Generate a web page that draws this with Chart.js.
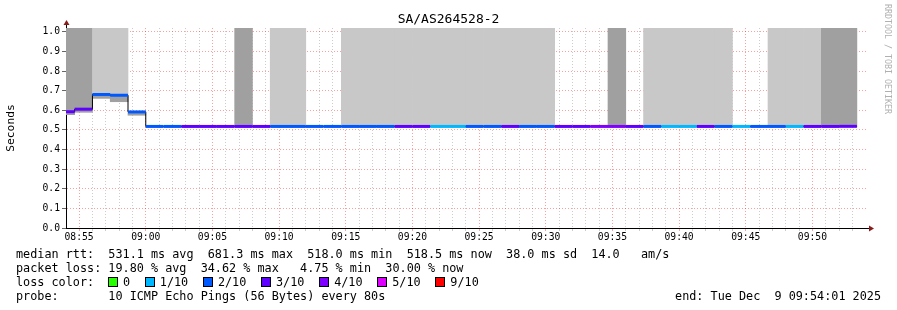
<!DOCTYPE html>
<html>
<head>
<meta charset="utf-8">
<title>SA/AS264528-2</title>
<script src="https://cdn.jsdelivr.net/npm/chart.js@4.4.1/dist/chart.umd.min.js"></script>
<style>
  html, body { margin: 0; padding: 0; background: #fff; }
  #graph { position: relative; width: 897px; height: 310px; overflow: hidden; font-family: 'DejaVu Sans Mono', monospace; color: #000; }
  #myChart { position: absolute; left: 0; top: 0; }
  #graphTitle { position: absolute; left: 0; top: 11px; width: 897px; text-align: center; font-size: 13px; line-height: 16px; }
  .legendRow { position: absolute; left: 16px; font-size: 11.8px; line-height: 14px; height: 14px; white-space: pre; }
  #lossColors { position: absolute; left: 108px; top: 275px; height: 14px; display: flex; align-items: center; font-size: 11.8px; }
  .lossBox { width: 8px; height: 8px; border: 1px solid #000; margin-right: 5px; }
  .lossLabel { margin-right: 14.7px; white-space: pre; line-height: 14px; }
  #endStamp { position: absolute; right: 16px; top: 289px; font-size: 11.8px; line-height: 14px; white-space: pre; }
  #watermark { position: absolute; left: 883px; top: 4px; writing-mode: vertical-rl; font-size: 8.3px; line-height: 9px; color: #b0b0b0; white-space: pre; }
</style>
</head>
<body>
<div id="graph">
  <canvas id="myChart" width="897" height="310"></canvas>
  <div id="graphTitle"></div>
  <div class="legendRow" id="rttRow" style="top:247px"></div>
  <div class="legendRow" id="lossRow" style="top:261px"></div>
  <div class="legendRow" style="top:275px">loss color:</div>
  <div id="lossColors"></div>
  <div class="legendRow" id="probeRow" style="top:289px"></div>
  <div id="endStamp"></div>
  <div id="watermark">RRDTOOL / TOBI OETIKER</div>
</div>
<script>
const graphTitle = 'SA/AS264528-2';
const axisStart = '08:54:01';
const axisEnd = '09:54:01';
const firstSampleStart = '08:53:20';
const sampleSeconds = 80;

// median rtt per 80s sample, seconds
const medianRtt = [
  0.593, 0.606, 0.681, 0.677, 0.592,
  0.518, 0.518, 0.518, 0.518, 0.518, 0.518, 0.518, 0.518, 0.518, 0.518,
  0.518, 0.518, 0.518, 0.518, 0.518, 0.518, 0.518, 0.518, 0.518, 0.518,
  0.518, 0.518, 0.518, 0.518, 0.518, 0.518, 0.518, 0.518, 0.518, 0.518,
  0.518, 0.518, 0.518, 0.518, 0.518, 0.518, 0.518, 0.518, 0.518, 0.5185
];
// lower edge of the smoke under the median
const smokeLow = [
  0.578, 0.590, 0.661, 0.644, 0.575,
  0.518, 0.518, 0.518, 0.518, 0.518, 0.518, 0.518, 0.518, 0.518, 0.518,
  0.518, 0.518, 0.518, 0.518, 0.518, 0.518, 0.518, 0.518, 0.518, 0.518,
  0.518, 0.518, 0.518, 0.518, 0.518, 0.518, 0.518, 0.518, 0.518, 0.518,
  0.518, 0.518, 0.518, 0.518, 0.518, 0.518, 0.518, 0.518, 0.518, 0.5185
];
// lost pings out of 10
const lossTenths = [
  3, 3, 2, 2, 2, 2, 2, 3, 3, 3, 3, 3, 2, 2, 2,
  2, 2, 2, 2, 3, 3, 1, 1, 2, 2, 3, 2, 2, 3, 3,
  4, 4, 3, 2, 1, 1, 3, 2, 1, 2, 2, 1, 3, 3, 3
];
// smoke above the median (off the top of the graph): 0 none, 1 light, 2 dark
const upperSmoke = [
  2, 2, 1, 1, 0, 0, 0, 0, 0, 0, 2, 0, 1, 1, 0,
  0, 1, 1, 1, 1, 1, 1, 1, 1, 1, 1, 1, 1, 0, 0,
  0, 2, 0, 1, 1, 1, 1, 1, 0, 0, 1, 1, 1, 2, 2
];

const rttTicks = ['0.0', '0.1', '0.2', '0.3', '0.4', '0.5', '0.6', '0.7', '0.8', '0.9', '1.0'];
const timeTicks = ['08:55', '09:00', '09:05', '09:10', '09:15', '09:20', '09:25', '09:30', '09:35', '09:40', '09:45', '09:50'];

const lossSteps = [0, 1, 2, 3, 4, 5, 9];
const lossLabels = ['0', '1/10', '2/10', '3/10', '4/10', '5/10', '9/10'];
const lossColors = ['#26ff00', '#00b8ff', '#0059ff', '#5e00ff', '#7e00ff', '#dd00ff', '#ff0000'];
const shadeColors = ['rgba(0,0,0,0)', '#c8c8c8', '#a0a0a0'];

const rttLine = 'median rtt:  531.1 ms avg  681.3 ms max  518.0 ms min  518.5 ms now  38.0 ms sd  14.0   am/s';
const lossLine = 'packet loss: 19.80 % avg  34.62 % max   4.75 % min  30.00 % now';
const probeLine = 'probe:       10 ICMP Echo Pings (56 Bytes) every 80s';
const endLine = 'end: Tue Dec  9 09:54:01 2025';

const mono = 'DejaVu Sans Mono';
const majorGrid = 'rgba(255,0,0,0.38)';
const minorGrid = 'rgba(128,128,128,0.4)';

document.getElementById('graphTitle').textContent = graphTitle;
document.getElementById('rttRow').textContent = rttLine;
document.getElementById('lossRow').textContent = lossLine;
document.getElementById('probeRow').textContent = probeLine;
document.getElementById('endStamp').textContent = endLine;

const legendBox = document.getElementById('lossColors');
lossLabels.forEach((label, i) => {
  const box = document.createElement('span');
  box.className = 'lossBox';
  box.style.background = lossColors[i];
  const txt = document.createElement('span');
  txt.className = 'lossLabel';
  txt.textContent = label;
  legendBox.appendChild(box);
  legendBox.appendChild(txt);
});

// minutes since 08:00
const toMin = t => {
  const p = t.split(':').map(Number);
  return (p[0] - 8) * 60 + p[1] + p[2] / 60;
};
const xMin = toMin(axisStart);
const xMax = toMin(axisEnd);
const stepMin = sampleSeconds / 60;
const sampleStarts = medianRtt.map((m, i) => toMin(firstSampleStart) + i * stepMin);
const lossColor = n => lossColors[lossSteps.indexOf(n)];

const gridMinutes = [];
for (let m = Math.ceil(xMin); m < Math.floor(xMax); m++) gridMinutes.push(m);

// colored median: one flat piece per sample
const medianPieces = [];
medianRtt.forEach((m, i) => {
  medianPieces.push({x: sampleStarts[i], y: m});
  medianPieces.push({x: sampleStarts[i] + stepMin, y: m});
  medianPieces.push({x: sampleStarts[i] + stepMin, y: null});
});

const medianSteps = sampleStarts.map((x, i) => ({x: x, y: medianRtt[i]}));
medianSteps.push({x: sampleStarts[sampleStarts.length - 1] + stepMin, y: medianRtt[medianRtt.length - 1]});

const yTop = 1.02;
const upperBars = medianRtt.map((m, i) => ({x: sampleStarts[i] + stepMin / 2, y: [m, upperSmoke[i] ? yTop : m]}));
const lowerBars = medianRtt.map((m, i) => ({x: sampleStarts[i] + stepMin / 2, y: [smokeLow[i], m]}));

const axisArrows = {
  id: 'axisArrows',
  afterDraw(chart) {
    const {ctx, chartArea: {left, right, top, bottom}} = chart;
    const ax = Math.round(left) + 0.5;
    const ay = Math.round(bottom) + 0.5;
    ctx.save();
    ctx.strokeStyle = '#000';
    ctx.lineWidth = 1;
    ctx.beginPath();
    ctx.moveTo(ax, top);
    ctx.lineTo(ax, top - 3);
    ctx.moveTo(right, ay);
    ctx.lineTo(right + 3, ay);
    ctx.stroke();
    ctx.fillStyle = '#8b1a1a';
    ctx.beginPath();
    ctx.moveTo(ax, top - 8);
    ctx.lineTo(ax - 3, top - 3);
    ctx.lineTo(ax + 3, top - 3);
    ctx.closePath();
    ctx.fill();
    ctx.beginPath();
    ctx.moveTo(right + 8, ay);
    ctx.lineTo(right + 3, ay - 3);
    ctx.lineTo(right + 3, ay + 3);
    ctx.closePath();
    ctx.fill();
    ctx.restore();
  }
};

const ctx = document.getElementById('myChart');

new Chart(ctx, {
  type: 'line',
  data: {
    datasets: [
      {
        label: 'median rtt',
        data: medianPieces,
        borderWidth: 3,
        borderColor: lossColors[0],
        segment: {
          borderColor: c => lossColor(lossTenths[Math.floor(c.p0DataIndex / 3)])
        },
        pointRadius: 0,
        spanGaps: false,
        order: 0
      },
      {
        label: 'median steps',
        data: medianSteps,
        borderWidth: 1,
        borderColor: '#000',
        stepped: 'before',
        pointRadius: 0,
        order: 1
      },
      {
        type: 'bar',
        label: 'smoke below',
        data: lowerBars,
        stack: 'smoke',
        backgroundColor: '#a0a0a0',
        barThickness: 'flex',
        barPercentage: 1,
        categoryPercentage: 1,
        order: 2
      },
      {
        type: 'bar',
        label: 'smoke above',
        data: upperBars,
        stack: 'smoke',
        backgroundColor: c => shadeColors[upperSmoke[c.dataIndex]],
        barThickness: 'flex',
        barPercentage: 1,
        categoryPercentage: 1,
        order: 3
      }
    ]
  },
  options: {
    responsive: false,
    devicePixelRatio: 1,
    animation: false,
    events: [],
    layout: {
      autoPadding: false,
      padding: {top: 28, right: 31, bottom: 0, left: 0}
    },
    plugins: {
      legend: {display: false},
      tooltip: {enabled: false},
      title: {display: false}
    },
    scales: {
      x: {
        type: 'linear',
        min: xMin,
        max: xMax,
        offset: false,
        z: 1,
        afterBuildTicks: s => { s.ticks = gridMinutes.map(v => ({value: v})); },
        afterFit: s => { s.height = 82; },
        ticks: {
          autoSkip: false,
          maxRotation: 0,
          padding: 1,
          color: '#000',
          font: {family: mono, size: 9.7},
          callback: v => (v % 5 === 0 ? timeTicks[(v - 55) / 5] : '')
        },
        grid: {
          offset: false,
          color: c => (c.tick && c.tick.value % 5 === 0 ? majorGrid : minorGrid),
          tickLength: 3
        },
        border: {color: '#000', dash: [1, 2]}
      },
      y: {
        min: 0,
        max: yTop,
        stacked: false,
        z: 1,
        afterFit: s => { s.width = 66; },
        ticks: {
          stepSize: 0.1,
          includeBounds: false,
          padding: 2,
          color: '#000',
          font: {family: mono, size: 9.7},
          callback: (v, i) => rttTicks[i]
        },
        grid: {
          color: majorGrid,
          tickColor: '#666',
          tickLength: 4
        },
        border: {color: '#000', dash: [1, 2]},
        title: {
          display: true,
          text: 'Seconds',
          color: '#000',
          font: {family: mono, size: 11.3},
          padding: {top: 4.5, bottom: 0}
        }
      }
    }
  },
  plugins: [axisArrows]
});
</script>
</body>
</html>
